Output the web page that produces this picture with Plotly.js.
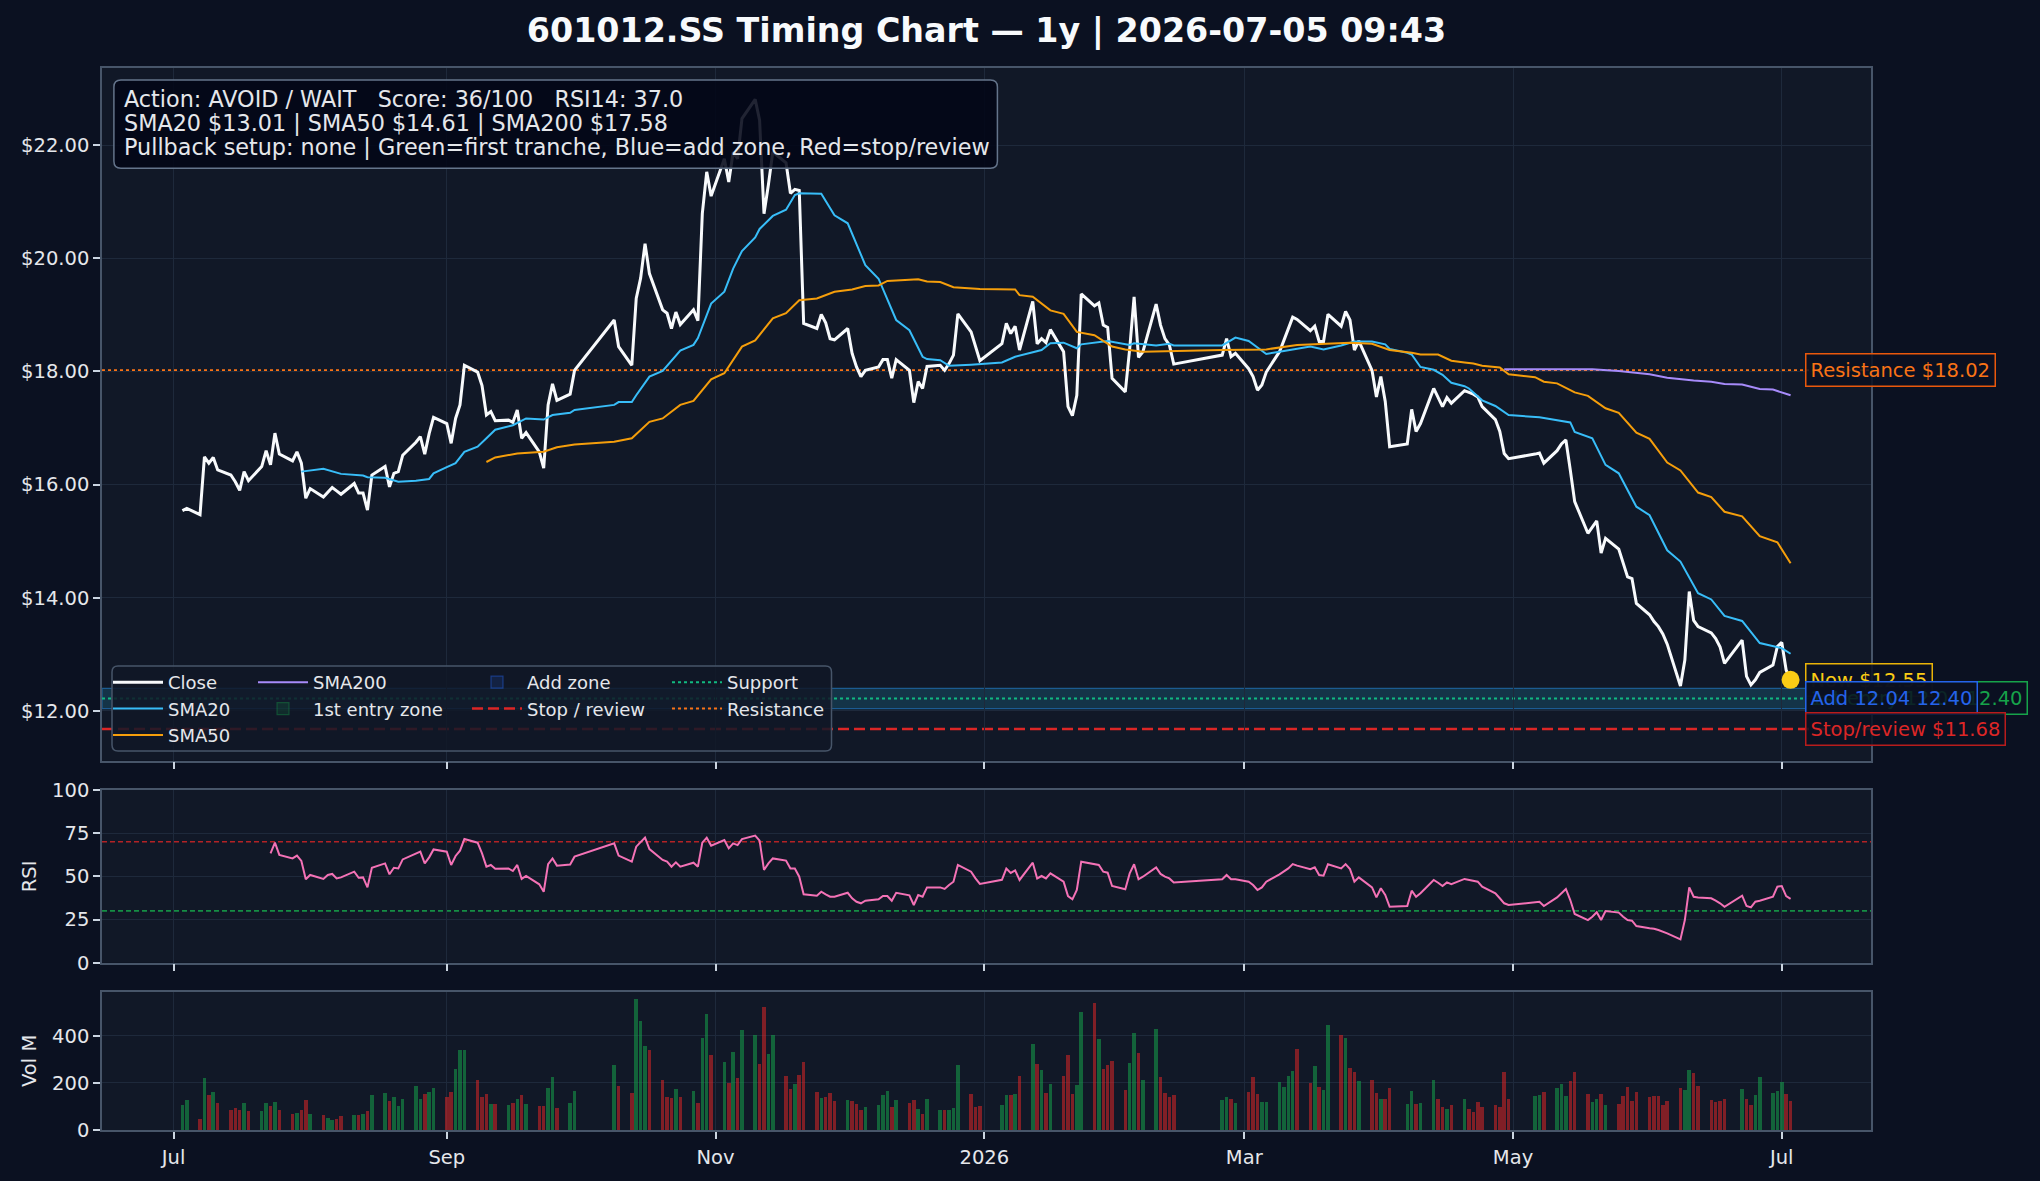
<!DOCTYPE html>
<html>
<head>
<meta charset="utf-8">
<title>601012.SS Timing Chart</title>
<script src="https://cdn.plot.ly/plotly-3.0.1.min.js"></script>
<style>
  html, body { margin: 0; padding: 0; background: #0b1121; }
  #chart { width: 2040px; height: 1181px; }
</style>
</head>
<body>
<div id="chart"></div>
<script>
// ---- Inputs -------------------------------------------------------------
const ticker = '601012.SS';
const stamp = '2026-07-05 09:43';
const firstSession = '2025-07-03';
const lastSession = '2026-07-03';
// Shanghai exchange closures inside the window (weekdays only)
const exchangeHolidays = [
  '2025-10-01', '2025-10-02', '2025-10-03', '2025-10-06', '2025-10-07', '2025-10-08',
  '2026-01-01', '2026-01-02',
  '2026-02-16', '2026-02-17', '2026-02-18', '2026-02-19', '2026-02-20', '2026-02-23',
  '2026-04-06', '2026-05-01', '2026-05-04', '2026-05-05', '2026-06-19'
];

// Daily closes, one per session
const closes = [
  15.54, 15.58, 15.47, 16.49, 16.38, 16.48, 16.26, 16.17, 16.05, 15.90, 16.23, 16.07, 16.32, 16.60, 16.35, 16.91, 16.54, 16.42, 16.58, 16.38, 15.76,
  15.93, 15.78, 15.86, 15.95, 15.89, 15.83, 16.02, 15.85, 15.85, 15.55, 16.17, 16.32, 15.96, 16.20, 16.23, 16.52, 16.75, 16.85, 16.54, 16.90, 17.19,
  17.08, 16.73, 17.17, 17.41, 18.11, 17.99, 17.75, 17.23, 17.29, 17.13, 17.14, 17.10, 17.32, 16.82, 16.92, 16.58, 16.29, 17.41, 17.78, 17.49, 17.60, 18.02,
  18.91, 18.44, 18.11, 19.29, 19.65, 20.26, 19.73, 19.09, 19.03, 18.76, 19.05, 18.83, 19.09, 18.90, 20.79, 21.53, 21.10,
  21.76, 21.35, 21.88, 21.76, 22.47, 22.81, 22.44, 20.79, 21.30, 21.88, 21.69, 21.15, 21.22, 21.20, 18.85, 18.76, 19.01, 18.86, 18.58, 18.56,
  18.76, 18.32, 18.08, 17.91, 18.02, 18.08, 18.21, 18.21, 17.88, 18.21, 18.02, 17.45, 17.82, 17.70, 18.09, 18.11, 18.02, 18.14, 18.29, 19.02, 18.70, 18.44, 18.19,
  18.49, 18.85, 18.67, 18.80, 18.38, 19.24, 18.49, 18.58, 18.51, 18.74, 18.35, 17.38, 17.22, 17.58, 19.37, 19.16, 19.21, 18.82, 18.78, 17.88,
  17.64, 18.40, 19.32, 18.25, 18.35, 19.19, 18.82, 18.58, 18.47, 18.13, 18.29, 18.58, 18.26, 18.32,
  18.05, 17.91, 17.67, 17.76, 17.99, 18.35, 18.55, 18.75, 18.96, 18.92, 18.72, 18.80, 18.53, 18.53, 19.01, 18.80, 19.06, 18.91, 18.38, 18.54, 18.02, 17.55,
  17.91, 17.47, 16.67, 16.72, 17.33, 16.94, 17.08, 17.70, 17.55, 17.38, 17.54, 17.44, 17.66, 17.63, 17.60, 17.55, 17.38, 17.15, 16.94, 16.55, 16.46,
  16.54, 16.56, 16.38, 16.60, 16.72, 16.79, 16.26, 15.70, 15.14, 15.25, 15.36, 14.79, 15.05, 14.86, 14.61, 14.37, 14.34, 13.90,
  13.70, 13.58, 13.49, 13.36, 13.18, 12.44, 12.90, 14.11, 13.60, 13.49, 13.38, 13.28, 13.13, 12.84, 13.25, 12.61, 12.46, 12.55, 12.68, 12.81, 13.14,
  13.21, 12.72, 12.55
];

// Daily volume, millions of shares
const volumesM = [
  107, 128, 50, 221, 149, 164, 114, 88, 93, 85, 118, 81, 81, 118, 102, 122, 88, 71, 75, 85, 127,
  71, 63, 54, 43, 48, 60, 67, 67, 71, 84, 152, 157, 124, 140, 102, 135, 188, 135, 154, 162, 178,
  140, 164, 260, 342, 342, 216, 142, 154, 110, 110, 107, 118, 132, 152, 110, 105, 102, 178, 225, 93, 115, 169,
  276, 188, 157, 558, 464, 359, 340, 216, 140, 137, 174, 140, 167, 114, 393, 494, 319,
  289, 199, 332, 222, 426, 404, 280, 524, 325, 404, 231, 175, 196, 235, 289, 162, 138, 142, 158, 124,
  128, 125, 111, 87, 101, 107, 149, 169, 100, 128, 118, 127, 91, 70, 135, 88, 85, 85, 94, 276, 154, 100, 102,
  107, 149, 148, 154, 231, 366, 280, 256, 159, 196, 231, 320, 154, 192, 502, 541, 389, 260, 278, 295,
  171, 285, 413, 327, 214, 430, 225, 159, 140, 149, 128, 140, 135, 117,
  161, 225, 154, 120, 120, 204, 185, 231, 252, 344, 199, 273, 185, 171, 447, 406, 391, 266, 246, 209, 216, 157,
  135, 131, 178, 112, 167, 111, 114, 216, 131, 98, 90, 107, 135, 90, 77, 122, 98, 107, 100, 246, 132,
  145, 149, 161, 178, 196, 145, 209, 246, 154, 121, 135, 154, 107, 111, 145, 182, 124, 161,
  140, 145, 145, 107, 124, 178, 171, 256, 245, 188, 128, 121, 124, 132, 174, 135, 107, 149, 225, 159, 167,
  204, 154, 124
];

// RSI(14); the first value belongs to the 15th session
const rsiLookback = 14;
const rsi14 = [
  63.3, 69.5, 62.4, 60.4, 62.0, 58.9, 48.3,
  50.8, 48.5, 50.8, 51.4, 48.8, 49.4, 52.7, 49.2, 49.4, 43.6, 55.0, 57.5, 51.2, 55.0, 54.6, 59.8, 62.9, 64.3, 57.5, 61.0, 65.6,
  64.3, 56.6, 61.8, 64.9, 71.6, 69.5, 63.3, 55.6, 56.6, 54.4, 54.6, 53.1, 56.6, 48.5, 50.2, 45.4, 41.1, 57.1, 60.4, 56.2, 56.9, 61.4,
  69.1, 62.0, 58.5, 67.2, 70.1, 72.4, 65.8, 59.5, 58.5, 55.6, 58.1, 55.6, 57.9, 55.6, 69.5, 72.4, 67.8,
  71.0, 66.2, 69.1, 68.1, 71.6, 73.6, 70.7, 53.7, 57.5, 60.4, 59.1, 54.6, 54.6, 49.8, 39.6, 38.8, 41.1, 39.6, 38.2, 38.2,
  40.5, 37.3, 35.3, 34.4, 35.9, 36.7, 38.6, 38.6, 35.9, 40.5, 39.0, 33.4, 39.2, 38.2, 43.6, 43.6, 42.7, 45.0, 46.9, 56.6, 52.7, 48.8, 45.6,
  48.0, 54.5, 52.0, 53.5, 47.9, 57.9, 48.8, 50.2, 48.8, 51.7, 46.9, 38.6, 36.7, 42.1, 58.5, 57.0, 56.6, 52.7, 52.1, 44.4,
  42.5, 51.7, 57.0, 48.3, 49.8, 55.2, 51.4, 49.8, 48.8, 46.5, 48.3, 50.8, 48.3, 48.3,
  46.9, 45.0, 42.1, 43.6, 46.9, 51.2, 52.7, 54.6, 57.1, 56.2, 54.1, 55.2, 50.8, 50.4, 57.0, 54.6, 57.1, 54.2, 46.9, 49.4, 43.6, 37.8,
  43.1, 39.2, 32.4, 32.8, 41.7, 38.2, 40.2, 47.9, 46.3, 44.4, 46.5, 45.4, 48.5, 47.9, 47.3, 46.9, 44.0, 40.2, 37.3, 34.4, 33.4,
  34.7, 35.3, 32.8, 37.8, 40.2, 42.7, 36.3, 28.2, 24.7, 26.6, 29.2, 24.7, 29.9, 29.0, 26.6, 24.7, 24.3, 21.2,
  19.9, 19.7, 18.9, 18.0, 17.0, 13.5, 24.7, 43.6, 38.2, 37.8, 37.3, 35.9, 34.4, 32.4, 38.8, 32.8, 32.0, 35.3, 35.9, 38.2, 44.0,
  44.4, 38.6, 37.0
];

// Moving averages, read at the sessions listed
const sma20Dates = [
  '2025-07-30', '2025-08-04', '2025-08-08', '2025-08-11', '2025-08-13', '2025-08-14', '2025-08-18', '2025-08-21', '2025-08-25', '2025-08-28',
  '2025-08-29', '2025-09-01', '2025-09-03', '2025-09-05', '2025-09-08', '2025-09-10', '2025-09-12', '2025-09-16', '2025-09-19', '2025-09-23',
  '2025-09-25', '2025-09-29', '2025-09-30', '2025-10-09', '2025-10-10', '2025-10-13', '2025-10-14', '2025-10-17', '2025-10-20', '2025-10-24',
  '2025-10-27', '2025-10-28', '2025-10-31', '2025-11-03', '2025-11-05', '2025-11-07', '2025-11-10', '2025-11-11', '2025-11-14', '2025-11-17',
  '2025-11-19', '2025-11-20', '2025-11-25', '2025-11-28', '2025-12-01', '2025-12-05', '2025-12-08', '2025-12-12', '2025-12-15', '2025-12-18',
  '2025-12-19', '2025-12-22', '2025-12-24', '2025-12-29', '2026-01-05', '2026-01-08', '2026-01-14', '2026-01-16', '2026-01-19', '2026-01-22',
  '2026-01-23', '2026-01-29', '2026-02-03', '2026-02-04', '2026-02-09', '2026-02-12', '2026-02-13', '2026-02-24', '2026-02-27', '2026-03-02',
  '2026-03-06', '2026-03-09', '2026-03-12', '2026-03-16', '2026-03-19', '2026-03-23', '2026-03-26', '2026-03-30', '2026-04-02', '2026-04-03',
  '2026-04-07', '2026-04-08', '2026-04-10', '2026-04-13', '2026-04-15', '2026-04-17', '2026-04-20', '2026-04-21', '2026-04-24', '2026-04-27',
  '2026-04-30', '2026-05-07', '2026-05-14', '2026-05-15', '2026-05-19', '2026-05-22', '2026-05-25', '2026-05-29', '2026-06-01', '2026-06-05',
  '2026-06-08', '2026-06-12', '2026-06-15', '2026-06-18', '2026-06-22', '2026-06-26', '2026-07-01', '2026-07-03'
];
const sma20Values = [
  16.23, 16.28, 16.19, 16.17, 16.16, 16.13, 16.12, 16.05, 16.07, 16.10,
  16.20, 16.31, 16.38, 16.58, 16.67, 16.82, 16.97, 17.05, 17.17, 17.15,
  17.23, 17.27, 17.32, 17.41, 17.46, 17.46, 17.58, 17.91, 18.01, 18.37,
  18.47, 18.59, 19.20, 19.41, 19.82, 20.13, 20.37, 20.52, 20.75, 20.86,
  21.12, 21.15, 21.14, 20.76, 20.62, 19.88, 19.64, 18.91, 18.73, 18.26,
  18.22, 18.20, 18.10, 18.12, 18.16, 18.26, 18.38, 18.50, 18.51, 18.41,
  18.48, 18.54, 18.47, 18.50, 18.46, 18.49, 18.46, 18.46, 18.60, 18.54,
  18.31, 18.35, 18.39, 18.44, 18.39, 18.46, 18.53, 18.53, 18.48, 18.40,
  18.33, 18.30, 18.08, 18.03, 17.94, 17.80, 17.74, 17.70, 17.49, 17.39,
  17.23, 17.19, 17.10, 16.93, 16.82, 16.35, 16.20, 15.61, 15.46, 14.84,
  14.64, 14.08, 13.97, 13.68, 13.59, 13.20, 13.11, 13.01
];

const sma50Dates = [
  '2025-09-10', '2025-09-12', '2025-09-17', '2025-09-23', '2025-09-26', '2025-09-30', '2025-10-09', '2025-10-13', '2025-10-17', '2025-10-20',
  '2025-10-24', '2025-10-27', '2025-10-31', '2025-11-03', '2025-11-07', '2025-11-10', '2025-11-14', '2025-11-17', '2025-11-20', '2025-11-24',
  '2025-11-28', '2025-12-02', '2025-12-05', '2025-12-08', '2025-12-10', '2025-12-17', '2025-12-19', '2025-12-22', '2025-12-25', '2025-12-31',
  '2026-01-08', '2026-01-09', '2026-01-12', '2026-01-16', '2026-01-19', '2026-01-22', '2026-01-26', '2026-01-30', '2026-02-02', '2026-02-06',
  '2026-02-24', '2026-03-06', '2026-03-13', '2026-03-20', '2026-03-25', '2026-03-30', '2026-04-01', '2026-04-03', '2026-04-08', '2026-04-10',
  '2026-04-14', '2026-04-15', '2026-04-17', '2026-04-20', '2026-04-22', '2026-04-24', '2026-04-28', '2026-04-30', '2026-05-06', '2026-05-08',
  '2026-05-11', '2026-05-15', '2026-05-18', '2026-05-22', '2026-05-25', '2026-05-29', '2026-06-01', '2026-06-05', '2026-06-08', '2026-06-12',
  '2026-06-15', '2026-06-18', '2026-06-22', '2026-06-26', '2026-06-30', '2026-07-03'
];
const sma50Values = [
  16.40, 16.48, 16.55, 16.58, 16.66, 16.71, 16.76, 16.82, 17.11, 17.17,
  17.41, 17.48, 17.86, 17.97, 18.44, 18.55, 18.94, 19.03, 19.26, 19.29,
  19.41, 19.45, 19.51, 19.52, 19.60, 19.63, 19.59, 19.58, 19.49, 19.46,
  19.45, 19.35, 19.32, 19.08, 19.02, 18.70, 18.64, 18.44, 18.39, 18.35,
  18.38, 18.39, 18.47, 18.50, 18.51, 18.49, 18.44, 18.38, 18.33, 18.30,
  18.30, 18.26, 18.19, 18.16, 18.14, 18.10, 18.07, 17.95, 17.90, 17.82,
  17.79, 17.63, 17.57, 17.35, 17.27, 16.92, 16.81, 16.39, 16.25, 15.86,
  15.78, 15.52, 15.44, 15.09, 14.98, 14.61
];

const sma200Dates = [
  '2026-04-29', '2026-05-07', '2026-05-14', '2026-05-19', '2026-05-25', '2026-06-01', '2026-06-05',
  '2026-06-11', '2026-06-15', '2026-06-18', '2026-06-22', '2026-06-26', '2026-06-29', '2026-07-03'
];
const sma200Values = [18.04, 18.04, 18.05, 18.04, 18.01, 17.95, 17.89, 17.84, 17.82, 17.78, 17.77, 17.69, 17.68, 17.58];

// Trade plan levels
const resistance = 18.02;
const support = 12.22;
const stopReview = 11.68;
const entryZone = [12.04, 12.40];
const addZone = [12.04, 12.40];
const overbought = 70;
const oversold = 30;
const action = 'AVOID / WAIT';
const score = 36;
const setup = 'none';

const monthTicks = ['2025-07-01', '2025-09-01', '2025-11-01', '2026-01-01', '2026-03-01', '2026-05-01', '2026-07-01'];
const monthLabels = ['Jul', 'Sep', 'Nov', '2026', 'Mar', 'May', 'Jul'];
const priceTicks = [12, 14, 16, 18, 20, 22];
const rsiTicks = [0, 25, 50, 75, 100];
const volTicks = [0, 200, 400];

// ---- Helpers ------------------------------------------------------------
function tradingSessions(start, end, closed) {
  const off = new Set(closed);
  const out = [];
  const d = new Date(start + 'T00:00:00Z');
  const stop = new Date(end + 'T00:00:00Z');
  while (d <= stop) {
    const dow = d.getUTCDay();
    const iso = d.toISOString().slice(0, 10);
    if (dow !== 0 && dow !== 6 && !off.has(iso)) out.push(iso);
    d.setUTCDate(d.getUTCDate() + 1);
  }
  return out;
}

const W = 2040, H = 1181;
const px = v => v / W;            // page pixel -> paper x
const py = v => 1 - v / H;        // page pixel -> paper y

// Rounded frame as a paper-referenced path (pixel inputs)
function roundedFrame(x0, y0, x1, y1, r) {
  const X = px, Y = py;
  return 'M' + X(x0 + r) + ',' + Y(y0) +
    ' L' + X(x1 - r) + ',' + Y(y0) + ' Q' + X(x1) + ',' + Y(y0) + ' ' + X(x1) + ',' + Y(y0 + r) +
    ' L' + X(x1) + ',' + Y(y1 - r) + ' Q' + X(x1) + ',' + Y(y1) + ' ' + X(x1 - r) + ',' + Y(y1) +
    ' L' + X(x0 + r) + ',' + Y(y1) + ' Q' + X(x0) + ',' + Y(y1) + ' ' + X(x0) + ',' + Y(y1 - r) +
    ' L' + X(x0) + ',' + Y(y0 + r) + ' Q' + X(x0) + ',' + Y(y0) + ' ' + X(x0 + r) + ',' + Y(y0) + ' Z';
}

const sessions = tradingSessions(firstSession, lastSession, exchangeHolidays);
const rsiDates = sessions.slice(rsiLookback, rsiLookback + rsi14.length);
const lastClose = closes[closes.length - 1];
const lastDate = sessions[closes.length - 1];
const volColors = closes.map((c, i) =>
  (i === 0 || c >= closes[i - 1]) ? 'rgba(22,163,74,0.55)' : 'rgba(220,38,38,0.55)');

const FONT = 'DejaVu Sans';
const TXT = '#e5e7eb';
const PAPER = '#0b1121';
const PLOT = '#111827';
const GRID = '#1e293b';
const SPINE = '#475569';
const fmt = v => v.toFixed(2);

// ---- Traces -------------------------------------------------------------
const traces = [
  { type: 'scatter', mode: 'lines', x: sessions, y: closes, name: 'Close',
    line: { color: '#f8fafc', width: 3 }, legend: 'legend', legendrank: 1, xaxis: 'x', yaxis: 'y' },
  { type: 'scatter', mode: 'lines', x: sma20Dates, y: sma20Values, name: 'SMA20',
    line: { color: '#38bdf8', width: 2 }, legend: 'legend', legendrank: 2, xaxis: 'x', yaxis: 'y' },
  { type: 'scatter', mode: 'lines', x: sma50Dates, y: sma50Values, name: 'SMA50',
    line: { color: '#f59e0b', width: 2 }, legend: 'legend', legendrank: 3, xaxis: 'x', yaxis: 'y' },
  { type: 'scatter', mode: 'lines', x: sma200Dates, y: sma200Values, name: 'SMA200',
    line: { color: '#a78bfa', width: 2 }, legend: 'legend2', legendrank: 1, xaxis: 'x', yaxis: 'y' },
  { type: 'scatter', mode: 'markers', x: [lastDate], y: [lastClose], showlegend: false,
    marker: { color: '#facc15', size: 18 }, xaxis: 'x', yaxis: 'y' },
  { type: 'scatter', mode: 'lines', x: rsiDates, y: rsi14, showlegend: false,
    line: { color: '#f472b6', width: 2 }, xaxis: 'x2', yaxis: 'y2' },
  { type: 'bar', x: sessions, y: volumesM, showlegend: false, width: 0.8 * 86400000,
    marker: { color: volColors, line: { width: 0 } }, xaxis: 'x3', yaxis: 'y3' }
];

// ---- Shapes: zones, levels, frames ---------------------------------------
const shapes = [
  { type: 'rect', xref: 'x domain', yref: 'y', x0: 0, x1: 1, y0: entryZone[0], y1: entryZone[1],
    fillcolor: 'rgba(22,163,74,0.15)', line: { color: 'rgba(22,163,74,0.35)', width: 1.2 }, layer: 'below',
    showlegend: true, name: '1st entry zone', legend: 'legend2', legendrank: 2 },
  { type: 'rect', xref: 'x domain', yref: 'y', x0: 0, x1: 1, y0: addZone[0], y1: addZone[1],
    fillcolor: 'rgba(37,99,235,0.15)', line: { color: 'rgba(37,99,235,0.45)', width: 1.2 }, layer: 'below',
    showlegend: true, name: 'Add zone', legend: 'legend3', legendrank: 1 },
  { type: 'line', xref: 'x domain', yref: 'y', x0: 0, x1: 1, y0: stopReview, y1: stopReview,
    line: { color: '#dc2626', width: 2.5, dash: '11px,5px' }, layer: 'below',
    showlegend: true, name: 'Stop / review', legend: 'legend3', legendrank: 2 },
  { type: 'line', xref: 'x domain', yref: 'y', x0: 0, x1: 1, y0: support, y1: support,
    line: { color: '#10b981', width: 2, dash: 'dot' }, layer: 'below',
    showlegend: true, name: 'Support', legend: 'legend4', legendrank: 1 },
  { type: 'line', xref: 'x domain', yref: 'y', x0: 0, x1: 1, y0: resistance, y1: resistance,
    line: { color: '#f97316', width: 2, dash: 'dot' }, layer: 'below',
    showlegend: true, name: 'Resistance', legend: 'legend4', legendrank: 2 },
  { type: 'line', xref: 'x2 domain', yref: 'y2', x0: 0, x1: 1, y0: overbought, y1: overbought,
    line: { color: 'rgba(220,38,38,0.8)', width: 1.6, dash: '5px,3px' }, layer: 'below' },
  { type: 'line', xref: 'x2 domain', yref: 'y2', x0: 0, x1: 1, y0: oversold, y1: oversold,
    line: { color: 'rgba(22,163,74,0.85)', width: 1.6, dash: '5px,3px' }, layer: 'below' },
  // legend frame
  { type: 'path', xref: 'paper', yref: 'paper', path: roundedFrame(112, 666, 831.5, 751, 6),
    fillcolor: 'rgba(17,24,39,0.85)', line: { color: SPINE, width: 1.5 }, layer: 'above' },
  // summary box frame
  { type: 'path', xref: 'paper', yref: 'paper', path: roundedFrame(113.9, 80, 997.4, 168.3, 7),
    fillcolor: 'rgba(2,6,23,0.88)', line: { color: '#64748b', width: 1.5 }, layer: 'above' }
];

// ---- Annotations ----------------------------------------------------------
function sideLabel(text, price, color, border) {
  return { xref: 'x', yref: 'y', x: lastDate, y: price, xanchor: 'left', yanchor: 'middle', xshift: 14,
    text: text, showarrow: false, align: 'left',
    font: { family: FONT, size: 19.5, color: color },
    bgcolor: 'rgba(11,17,33,0.85)', bordercolor: border, borderwidth: 1.5, borderpad: 4 };
}
function summaryLine(text, yPix) {
  return { xref: 'paper', yref: 'paper', x: px(121.5), y: py(yPix), xanchor: 'left', yanchor: 'middle',
    text: text, showarrow: false, align: 'left', font: { family: FONT, size: 22.3, color: TXT } };
}

const nb = '\u00a0\u00a0\u00a0';
const summary = [
  'Action: ' + action + nb + 'Score: ' + score + '/100' + nb + 'RSI14: ' + rsi14[rsi14.length - 1].toFixed(1),
  'SMA20 $' + fmt(sma20Values[sma20Values.length - 1]) + ' | SMA50 $' + fmt(sma50Values[sma50Values.length - 1]) +
    ' | SMA200 $' + fmt(sma200Values[sma200Values.length - 1]),
  'Pullback setup: ' + setup + ' | Green=first tranche, Blue=add zone, Red=stop/review'
];

const annotations = [
  summaryLine(summary[0], 99.5),
  summaryLine(summary[1], 123),
  summaryLine(summary[2], 147),
  sideLabel('Resistance $' + fmt(resistance), resistance, '#f97316', '#ea580c'),
  sideLabel('Now $' + fmt(lastClose), lastClose, '#facc15', '#eab308'),
  sideLabel('1st entry ' + fmt(entryZone[0]) + ' ' + fmt(entryZone[1]), (entryZone[0] + entryZone[1]) / 2, '#16a34a', '#16a34a'),
  sideLabel('Add ' + fmt(addZone[0]) + ' ' + fmt(addZone[1]), (addZone[0] + addZone[1]) / 2, '#2563eb', '#2563eb'),
  sideLabel('Stop/review $' + fmt(stopReview), stopReview, '#dc2626', '#b91c1c')
];

// ---- Axes -----------------------------------------------------------------
const xRange = ['2025-06-14 18:00', '2026-07-21 06:00'];
const xDomain = [px(102), px(1871)];
function xAxis(anchor, labels) {
  return {
    type: 'date', domain: xDomain, anchor: anchor, range: xRange,
    tickmode: 'array', tickvals: monthTicks, ticktext: monthLabels, showticklabels: labels,
    ticks: 'outside', ticklen: 7, tickwidth: 1.5, tickcolor: '#cbd5e1', ticklabelstandoff: 2,
    tickfont: { family: FONT, size: 19.5, color: TXT },
    showgrid: true, gridcolor: GRID, gridwidth: 1, zeroline: false,
    showline: true, mirror: true, linecolor: SPINE, linewidth: 1.5
  };
}
function yAxis(anchor, domain, range, ticks, labels, extra) {
  return Object.assign({
    anchor: anchor, domain: domain, range: range,
    tickmode: 'array', tickvals: ticks, ticktext: labels,
    ticks: 'outside', ticklen: 7, tickwidth: 1.5, tickcolor: '#cbd5e1',
    tickfont: { family: FONT, size: 19.5, color: TXT },
    showgrid: true, gridcolor: GRID, gridwidth: 1, zeroline: false,
    showline: true, mirror: true, linecolor: SPINE, linewidth: 1.5
  }, extra || {});
}

function legendCol(xPix) {
  return { x: px(xPix), y: py(664), xref: 'paper', yref: 'paper', xanchor: 'left', yanchor: 'top',
    bgcolor: 'rgba(0,0,0,0)', borderwidth: 0, orientation: 'v', traceorder: 'normal', itemwidth: 50,
    font: { family: FONT, size: 18, color: TXT } };
}

const layout = {
  width: W, height: H,
  margin: { l: 0, r: 0, t: 0, b: 0, autoexpand: false },
  paper_bgcolor: PAPER, plot_bgcolor: PLOT,
  font: { family: FONT, color: TXT, size: 19.5 },
  title: {
    text: ticker + ' Timing Chart \u2014 1y | ' + stamp,
    x: px(986.5), xanchor: 'center', xref: 'paper',
    y: py(30), yanchor: 'middle', yref: 'paper',
    font: { family: FONT, size: 33.3, color: '#f8fafc', weight: 700 }
  },
  showlegend: true,
  legend: legendCol(108),
  legend2: legendCol(253),
  legend3: legendCol(467),
  legend4: legendCol(667),
  xaxis: xAxis('y', false),
  xaxis2: Object.assign(xAxis('y2', false), { matches: 'x' }),
  xaxis3: Object.assign(xAxis('y3', true), { matches: 'x' }),
  yaxis: yAxis('x', [py(760.7), py(67.7)], [11.12, 23.37], priceTicks, priceTicks.map(v => '$' + fmt(v))),
  yaxis2: yAxis('x2', [py(962.7), py(790)], [0, 100], rsiTicks, rsiTicks.map(String),
    { title: { text: 'RSI', font: { family: FONT, size: 19.5, color: TXT }, standoff: 10 } }),
  yaxis3: yAxis('x3', [py(1130), py(991.7)], [0, 588], volTicks, volTicks.map(String),
    { title: { text: 'Vol M', font: { family: FONT, size: 19.5, color: TXT }, standoff: 10 } }),
  bargap: 0,
  shapes: shapes,
  annotations: annotations,
  hovermode: false
};

Plotly.newPlot('chart', traces, layout, { displayModeBar: false });
</script>
</body>
</html>
